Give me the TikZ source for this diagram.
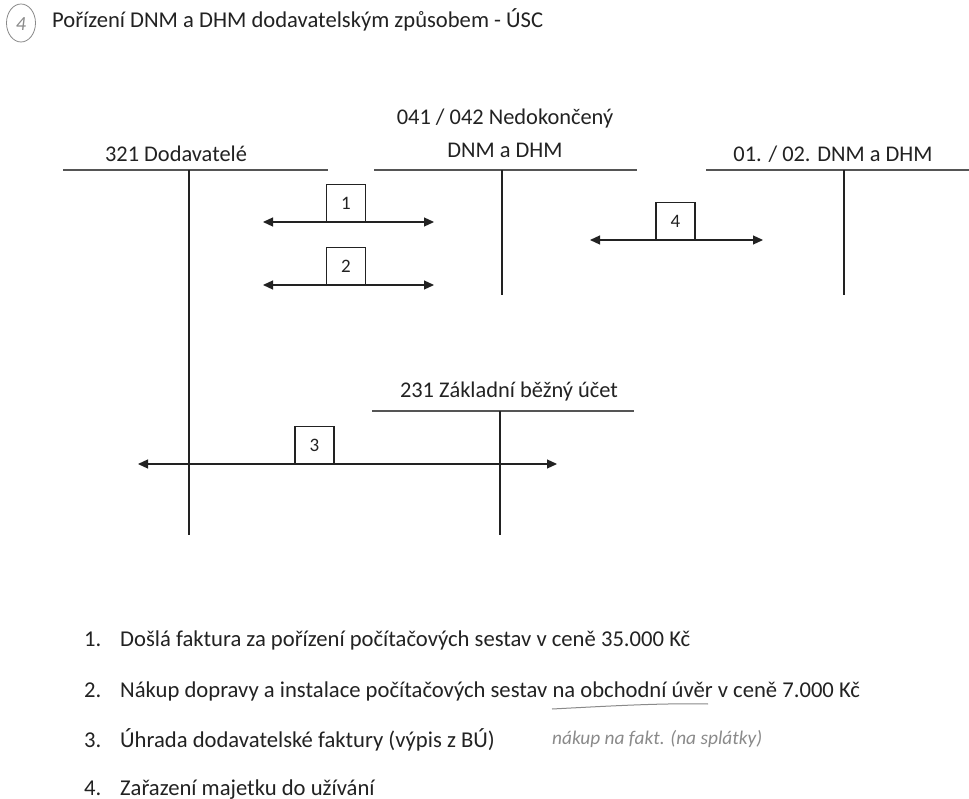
\documentclass[tikz,border=0pt]{standalone}
\usepackage{fontspec}
\setmainfont{Carlito}
\usetikzlibrary{arrows.meta}
\definecolor{ink}{HTML}{222222}
\definecolor{rule}{HTML}{555555}
\definecolor{pencil}{HTML}{8A8A8A}
\newlength\measlen
\tikzset{
  tline/.style={draw=rule, line width=1.3pt},
  tvert/.style={draw=ink, line width=1.5pt},
  numbox/.style={draw=ink, line width=1.1pt, minimum width=39pt, minimum height=37pt, inner sep=0pt, text=ink, font=\fontsize{19}{21}\selectfont, anchor=south},
  flow/.style={draw=ink, line width=1.2pt, {Triangle[length=10pt,width=9pt]}-{Triangle[length=10pt,width=9pt]}},
  hand/.style={text=pencil, font=\itshape\fontsize{15}{17}\selectfont, inner sep=0pt}
}
\begin{document}
\settowidth\measlen{\fontsize{20}{24}\selectfont Pořízení DNM a DHM dodavatelským způsobem - ÚSC}%
\pgfmathsetmacro\titlefs{20*491/\measlen}%
\settowidth\measlen{\fontsize{20}{24}\selectfont Došlá faktura za pořízení počítačových sestav v ceně 35.000 Kč}%
\pgfmathsetmacro\listfs{20*570/\measlen}%
\settowidth\measlen{\fontsize{20}{24}\selectfont 231 Základní běžný účet}%
\pgfmathsetmacro\labfs{20*218/\measlen}%
\begin{tikzpicture}[x=1pt,y=-1pt,
  txt/.style={text=ink, font=\fontsize{\labfs}{\labfs}\selectfont, inner sep=0pt, anchor=base},
  listtxt/.style={text=ink, font=\fontsize{\listfs}{\listfs}\selectfont, inner sep=0pt, anchor=base west}]
\useasboundingbox[fill=white] (0,0) rectangle (969,799);
% header
\draw[pencil, line width=0.8pt] (21,23) ellipse [x radius=14.5pt, y radius=19pt];
\node[hand, font=\itshape\fontsize{20}{22}\selectfont] (circ) at (21,24) {4};
\node[text=ink, inner sep=0pt, anchor=base west, font=\fontsize{\titlefs}{\titlefs}\selectfont] (title) at (52,28) {Pořízení DNM a DHM dodavatelským způsobem - ÚSC};
% T-account 321
\coordinate (a321l) at (63,170); \coordinate (a321r) at (328,170);
\coordinate (a321t) at (189,170); \coordinate (a321b) at (189,535);
\draw[tline] (a321l) -- (a321r);
\draw[tvert] (a321t) -- (a321b);
\node[txt] (l321) at (176,162) {321 Dodavatelé};
% T-account 041/042
\coordinate (a041l) at (374,170); \coordinate (a041r) at (637,170);
\coordinate (a041t) at (502,170); \coordinate (a041b) at (502,295);
\draw[tline] (a041l) -- (a041r);
\draw[tvert] (a041t) -- (a041b);
\node[txt] (l041a) at (505,125) {041 / 042 Nedokončený};
\node[txt] (l041b) at (505,158) {DNM a DHM};
% T-account 01./02.
\coordinate (a01l) at (706,170); \coordinate (a01r) at (969,170);
\coordinate (a01t) at (844,170); \coordinate (a01b) at (844,295);
\draw[tline] (a01l) -- (a01r);
\draw[tvert] (a01t) -- (a01b);
\node[txt] (l01) at (833,162) {01. / 02. DNM a DHM};
% T-account 231
\coordinate (a231l) at (372,411); \coordinate (a231r) at (634,411);
\coordinate (a231t) at (500,411); \coordinate (a231b) at (500,535);
\draw[tline] (a231l) -- (a231r);
\draw[tvert] (a231t) -- (a231b);
\node[txt] (l231) at (509,398) {231 Základní běžný účet};
% flows
\coordinate (f1l) at (263,222); \coordinate (f1r) at (434,222);
\draw[flow] (f1l) -- (f1r);
\node[numbox] (b1) at (346,222) {1};
\coordinate (f2l) at (263,285); \coordinate (f2r) at (434,285);
\draw[flow] (f2l) -- (f2r);
\node[numbox] (b2) at (346,285) {2};
\coordinate (f4l) at (590,240); \coordinate (f4r) at (763,240);
\draw[flow] (f4l) -- (f4r);
\node[numbox] (b4) at (675.5,240) {4};
\coordinate (f3l) at (138,464); \coordinate (f3r) at (557,464);
\draw[flow] (f3l) -- (f3r);
\node[numbox] (b3) at (314.5,464) {3};
% list
\node[listtxt] (n1) at (84,646) {1.};
\node[listtxt] (t1) at (120,646) {Došlá faktura za pořízení počítačových sestav v ceně 35.000 Kč};
\node[listtxt] (n2) at (84,697) {2.};
\node[listtxt] (t2) at (120,697) {Nákup dopravy a instalace počítačových sestav na obchodní úvěr v ceně 7.000 Kč};
\node[listtxt] (n3) at (84,747) {3.};
\node[listtxt] (t3) at (120,747) {Úhrada dodavatelské faktury (výpis z BÚ)};
\node[listtxt] (n4) at (84,795) {4.};
\node[listtxt] (t4) at (120,795) {Zařazení majetku do užívání};
% pencil notes
\coordinate (u1) at (552,709); \coordinate (u2) at (708,704);
\draw[pencil, line width=1pt] (u1) .. controls (610,706) and (660,703) .. (u2);
\node[hand, anchor=base west] (note) at (552,744) {\resizebox{210pt}{!}{nákup na fakt. (na splátky)}};
\end{tikzpicture}
\end{document}
